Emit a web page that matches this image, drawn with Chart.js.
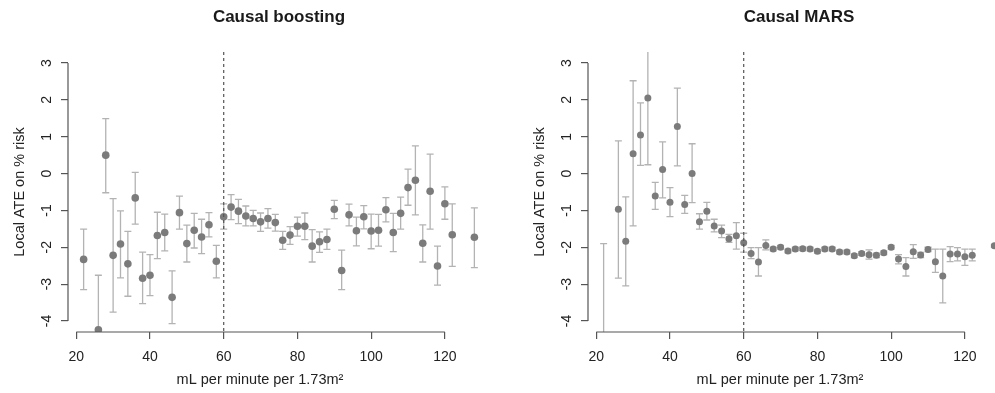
<!DOCTYPE html>
<html>
<head>
<meta charset="utf-8">
<script src="https://cdn.jsdelivr.net/npm/chart.js@4.4.1/dist/chart.umd.min.js"></script>
<style>
  html, body { margin: 0; padding: 0; background: #fff; overflow: hidden; width: 995px; height: 393px; }
  canvas { position: absolute; top: 0; }
  #c1 { left: 0; }
  #c2 { left: 520px; }
</style>
</head>
<body>
<canvas id="c1" width="520" height="393"></canvas>
<canvas id="c2" width="554" height="393"></canvas>
<script>
// ---- data ----
const xTicks = [20, 40, 60, 80, 100, 120];
const yTicks = [-4, -3, -2, -1, 0, 1, 2, 3];
const cutoff = 60;
const xLabel = "mL per minute per 1.73m\u00B2";
const yLabel = "Local ATE on % risk";

// Causal boosting
const boostX = [22, 26, 28, 30, 32, 34, 36, 38, 40, 42, 44, 46, 48, 50, 52, 54, 56, 58, 60,
  62, 64, 66, 68, 70, 72, 74, 76, 78, 80, 82, 84, 86, 88, 90, 92, 94, 96, 98, 100,
  102, 104, 106, 108, 110, 112, 114, 116, 118, 120, 122, 128];
const boostEst = [-2.33, -4.24, 0.5, -2.22, -1.91, -2.45, -0.66, -2.84, -2.76, -1.68, -1.6, -3.36, -1.06, -1.9, -1.54, -1.72, -1.39, -2.38, -1.17,
  -0.91, -1.02, -1.15, -1.22, -1.31, -1.22, -1.33, -1.81, -1.67, -1.43, -1.43, -1.97, -1.85, -1.79, -0.97, -2.63, -1.12, -1.55, -1.17, -1.56,
  -1.54, -0.98, -1.6, -1.08, -0.38, -0.18, -1.89, -0.48, -2.51, -0.82, -1.66, -1.73];
const boostLo = [-3.15, -5.3, -0.52, -3.76, -2.83, -3.33, -1.37, -3.53, -3.31, -2.31, -2.1, -4.07, -1.51, -2.4, -2.02, -2.17, -1.72, -2.83, -1.51,
  -1.25, -1.36, -1.42, -1.42, -1.57, -1.48, -1.56, -2.06, -1.92, -1.7, -1.79, -2.4, -2.14, -2.06, -1.22, -3.15, -1.42, -1.96, -1.5, -2.04,
  -1.97, -1.31, -2.12, -1.51, -0.86, -1.12, -2.4, -1.51, -3.03, -1.24, -2.52, -2.55];
const boostHi = [-1.51, -2.76, 1.49, -0.68, -1.01, -1.57, 0.03, -2.13, -2.2, -1.05, -1.1, -2.64, -0.61, -1.4, -1.08, -1.24, -1.06, -1.95, -0.82,
  -0.57, -0.7, -0.88, -1.0, -1.07, -0.95, -1.11, -1.57, -1.44, -1.18, -1.07, -1.52, -1.58, -1.51, -0.73, -2.08, -0.83, -1.18, -0.87, -1.1,
  -1.11, -0.65, -1.08, -0.64, 0.12, 0.75, -1.39, 0.53, -1.97, -0.36, -0.82, -0.93];

// Causal MARS
const marsX = [22, 26, 28, 30, 32, 34, 36, 38, 40, 42, 44, 46, 48, 50, 52, 54, 56, 58, 60,
  62, 64, 66, 68, 70, 72, 74, 76, 78, 80, 82, 84, 86, 88, 90, 92, 94, 96, 98, 100,
  102, 104, 106, 108, 110, 112, 114, 116, 118, 120, 122, 128];
const marsEst = [-6.5, -0.97, -1.84, 0.54, 1.05, 2.05, -0.61, 0.11, -0.78, 1.28, -0.84, 0.0, -1.31, -1.02, -1.42, -1.56, -1.77, -1.69, -1.88,
  -2.17, -2.4, -1.95, -2.05, -2.0, -2.1, -2.05, -2.04, -2.05, -2.11, -2.05, -2.05, -2.13, -2.13, -2.23, -2.17, -2.2, -2.22, -2.15, -2.0,
  -2.32, -2.52, -2.12, -2.21, -2.06, -2.39, -2.78, -2.18, -2.18, -2.26, -2.22, -1.96];
const marsLo = [-11.0, -2.84, -3.05, -1.42, 0.22, 0.24, -0.97, -0.66, -1.17, 0.21, -1.08, -0.79, -1.51, -1.26, -1.58, -1.74, -1.87, -2.05, -2.13,
  -2.31, -2.78, -2.07, -2.1, -2.05, -2.15, -2.1, -2.09, -2.1, -2.16, -2.1, -2.1, -2.18, -2.18, -2.28, -2.22, -2.32, -2.28, -2.2, -2.05,
  -2.45, -2.78, -2.3, -2.28, -2.12, -2.68, -3.51, -2.39, -2.37, -2.49, -2.37, -2.0];
const marsHi = [-1.9, 0.89, -0.63, 2.52, 1.92, 3.9, -0.24, 0.86, -0.38, 2.32, -0.59, 0.81, -1.09, -0.78, -1.24, -1.4, -1.65, -1.33, -1.62,
  -2.01, -2.01, -1.8, -2.0, -1.95, -2.05, -2.0, -1.99, -2.0, -2.06, -2.0, -2.0, -2.08, -2.08, -2.18, -2.12, -2.07, -2.16, -2.1, -1.95,
  -2.2, -2.28, -1.93, -2.14, -2.0, -2.05, -2.05, -1.98, -2.01, -2.05, -2.05, -1.92];

const FONT = "'Liberation Sans', Arial, Helvetica, sans-serif";

// error bars + R style axis lines + dashed cutoff line + x label
const rStyle = {
  id: "rStyle",
  beforeDatasetsDraw(chart) {
    const { ctx, chartArea: a, scales: { x, y } } = chart;
    const ds = chart.data.datasets[0];
    ctx.save();
    ctx.beginPath();
    ctx.rect(a.left, a.top, a.right - a.left, a.bottom - a.top);
    ctx.clip();
    ctx.strokeStyle = "#b3b3b3";
    ctx.lineWidth = 1.3;
    ds.data.forEach((p) => {
      const px = x.getPixelForValue(p.x);
      const t = y.getPixelForValue(p.hi);
      const b = y.getPixelForValue(p.lo);
      ctx.beginPath();
      ctx.moveTo(px, t); ctx.lineTo(px, b);
      ctx.moveTo(px - 3.5, t); ctx.lineTo(px + 3.5, t);
      ctx.moveTo(px - 3.5, b); ctx.lineTo(px + 3.5, b);
      ctx.stroke();
    });
    ctx.restore();
  },
  afterDatasetsDraw(chart) {
    const { ctx, chartArea: a, scales: { x, y } } = chart;
    ctx.save();
    ctx.strokeStyle = "#555";
    ctx.lineWidth = 1.2;
    // dashed vertical line at the cutoff
    ctx.setLineDash([3, 3]);
    const cx = x.getPixelForValue(cutoff);
    ctx.beginPath(); ctx.moveTo(cx, a.top); ctx.lineTo(cx, a.bottom); ctx.stroke();
    ctx.setLineDash([]);
    // axis lines only between first and last tick
    ctx.beginPath();
    ctx.moveTo(x.getPixelForValue(xTicks[0]), a.bottom);
    ctx.lineTo(x.getPixelForValue(xTicks[xTicks.length - 1]), a.bottom);
    ctx.moveTo(a.left, y.getPixelForValue(yTicks[0]));
    ctx.lineTo(a.left, y.getPixelForValue(yTicks[yTicks.length - 1]));
    ctx.stroke();
    // x axis label
    ctx.fillStyle = "#222";
    ctx.font = "14.5px " + FONT;
    ctx.textAlign = "center";
    ctx.textBaseline = "alphabetic";
    ctx.fillText(xLabel, (a.left + a.right) / 2 - 19, 383.5);
    ctx.restore();
  }
};

function makeChart(id, title, xs, est, lo, hi, rightPad, radius) {
  const pts = xs.map((v, i) => ({ x: v, y: est[i], lo: lo[i], hi: hi[i] }));
  return new Chart(document.getElementById(id), {
    type: "scatter",
    data: {
      datasets: [{
        data: pts,
        pointRadius: radius,
        pointHoverRadius: radius,
        pointBackgroundColor: "#7b7b7b",
        pointBorderColor: "#7b7b7b",
        pointBorderWidth: 0
      }]
    },
    options: {
      responsive: false,
      animation: false,
      events: [],
      layout: { padding: { left: 0, right: rightPad, top: 0, bottom: 0 } },
      plugins: {
        legend: { display: false },
        tooltip: { enabled: false },
        title: {
          display: true,
          fullSize: false,
          text: title,
          color: "#1a1a1a",
          font: { family: FONT, size: 17, weight: "bold", lineHeight: 1.2 },
          padding: { top: 7, bottom: 24.6 }
        }
      },
      scales: {
        x: {
          type: "linear",
          min: 17.76,
          max: 132.24,
          afterBuildTicks: (s) => { s.ticks = xTicks.map((v) => ({ value: v })); },
          afterFit: (s) => { s.height = 61; },
          border: { display: false },
          grid: { drawOnChartArea: false, drawTicks: true, tickLength: 7, color: "#555", lineWidth: 1.2 },
          ticks: { color: "#222", font: { family: FONT, size: 14 }, padding: 10, maxRotation: 0, minRotation: 0 }
        },
        y: {
          type: "linear",
          min: -4.3,
          max: 3.3,
          afterBuildTicks: (s) => { s.ticks = yTicks.map((v) => ({ value: v })); },
          afterFit: (s) => { s.width = 68; },
          border: { display: false },
          grid: { drawOnChartArea: false, drawTicks: true, tickLength: 7, color: "#555", lineWidth: 1.2 },
          ticks: { color: "#222", font: { family: FONT, size: 14 }, padding: 8, minRotation: 90, maxRotation: 90, crossAlign: "center" },
          title: {
            display: true,
            text: yLabel,
            color: "#222",
            font: { family: FONT, size: 14.5, lineHeight: 1.2 },
            padding: { top: 11, bottom: 0 }
          }
        }
      }
    },
    plugins: [rStyle]
  });
}

makeChart("c1", "Causal boosting", boostX, boostEst, boostLo, boostHi, 30, 3.8);
makeChart("c2", "Causal MARS", marsX, marsEst, marsLo, marsHi, 64, 3.5);
</script>
</body>
</html>
